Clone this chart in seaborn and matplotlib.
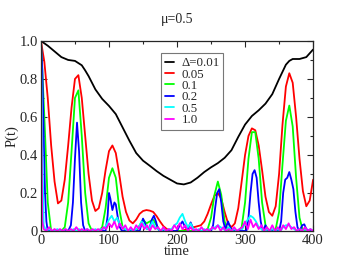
# P(t) for several Delta values at mu=0.5
import numpy as np
import pandas as pd
import matplotlib
matplotlib.use('Agg')
import matplotlib.pyplot as plt
from matplotlib.ticker import MultipleLocator, FuncFormatter
import seaborn as sns

# Delta = 0.01 (black)
t_black = [0, 10, 20, 30, 40, 50, 60, 65, 70, 75, 80, 90, 100, 110, 120, 130, 140, 150, 160, 170,
           180, 190, 200, 210, 220, 230, 240, 250, 260, 270, 280, 290, 300, 310, 320, 330, 340, 350,
           360, 365, 370, 380, 390, 400]
p_black = [1.0, 0.975, 0.945, 0.915, 0.9, 0.895, 0.872, 0.845, 0.815, 0.78, 0.745, 0.695, 0.658,
           0.615, 0.545, 0.475, 0.41, 0.37, 0.343, 0.315, 0.29, 0.27, 0.25, 0.245, 0.255, 0.28, 0.31,
           0.335, 0.357, 0.385, 0.425, 0.495, 0.56, 0.605, 0.635, 0.67, 0.72, 0.8, 0.875, 0.895,
           0.905, 0.905, 0.915, 0.955]

# Delta = 0.05 (red)
t_red = list(range(0, 401, 5))
p_red = [1.0, 0.89, 0.7, 0.45, 0.26, 0.145, 0.16, 0.27, 0.45, 0.65, 0.8, 0.82, 0.7, 0.5, 0.3, 0.16,
         0.105, 0.12, 0.2, 0.32, 0.42, 0.45, 0.41, 0.3, 0.18, 0.1, 0.055, 0.04, 0.06, 0.09, 0.105, 0.11,
         0.107, 0.1, 0.078, 0.05, 0.025, 0.01, 0.004, 0.0, 0.0, 0.0, 0.004, 0.01, 0.015, 0.02, 0.025,
         0.03, 0.05, 0.09, 0.14, 0.185, 0.2, 0.17, 0.1, 0.04, 0.02, 0.04, 0.12, 0.26, 0.4, 0.5, 0.54,
         0.53, 0.45, 0.32, 0.18, 0.1, 0.08, 0.13, 0.3, 0.56, 0.76, 0.83, 0.78, 0.6, 0.38, 0.21, 0.13,
         0.16, 0.27]

# Delta = 0.1 (green)
t_green = list(range(0, 401, 5))
p_green = [1.0, 0.6, 0.15, 0.0, 0.0, 0.0, 0.0, 0.02, 0.15, 0.42, 0.7, 0.74, 0.5, 0.2, 0.04, 0.0,
           0.0, 0.0, 0.02, 0.12, 0.28, 0.33, 0.28, 0.12, 0.02, 0.0, 0.0, 0.0, 0.0, 0.03, 0.06, 0.04,
           0.05, 0.06, 0.03, 0.0, 0.0, 0.0, 0.0, 0.0, 0.0, 0.0, 0.0, 0.0, 0.0, 0.0, 0.0, 0.0, 0.0, 0.01,
           0.07, 0.19, 0.26, 0.19, 0.05, 0.0, 0.0, 0.0, 0.0, 0.02, 0.15, 0.38, 0.52, 0.52, 0.38, 0.15,
           0.03, 0.0, 0.0, 0.01, 0.1, 0.35, 0.58, 0.66, 0.55, 0.28, 0.07, 0.0, 0.0, 0.0, 0.0]

# Delta = 0.2 (blue)
t_blue = [0, 2, 4, 6, 8, 10, 40, 44, 47, 50, 53, 56, 59, 62, 65, 95, 98, 100, 102, 105, 108, 110,
          113, 116, 119, 145, 148, 150, 153, 156, 160, 163, 166, 169, 172, 175, 200, 204, 208, 212,
          216, 220, 224, 228, 250, 253, 256, 259, 262, 265, 268, 271, 275, 278, 282, 302, 305, 308,
          311, 314, 317, 320, 323, 326, 330, 333, 350, 353, 356, 359, 362, 365, 368, 371, 374, 377,
          380, 384, 387, 390, 395, 400]
p_blue = [1.0, 0.85, 0.5, 0.2, 0.05, 0.0, 0.0, 0.03, 0.15, 0.38, 0.57, 0.42, 0.15, 0.03, 0.0, 0.0,
          0.08, 0.2, 0.17, 0.11, 0.15, 0.14, 0.07, 0.02, 0.0, 0.0, 0.04, 0.065, 0.04, 0.01, 0.02, 0.06,
          0.08, 0.05, 0.01, 0.0, 0.0, 0.03, 0.05, 0.02, 0.01, 0.045, 0.01, 0.0, 0.0, 0.03, 0.12, 0.2,
          0.22, 0.15, 0.05, 0.01, 0.05, 0.02, 0.0, 0.0, 0.07, 0.2, 0.3, 0.32, 0.28, 0.15, 0.05, 0.0,
          0.03, 0.0, 0.0, 0.05, 0.2, 0.27, 0.28, 0.31, 0.27, 0.22, 0.1, 0.02, 0.0, 0.03, 0.035, 0.01,
          0.0, 0.0]

# Delta = 0.5 (cyan), hundredths after the initial drop
t_cyan = [0, 2] + list(range(4, 401, 4))
p_cyan = [1.0, 0.45] + [v / 100 for v in [
    3, 0, 1, 0, 0, 1, 0, 0, 1, 0, 0, 1, 0, 1, 0, 0, 1, 0, 0, 1, 0, 1, 1, 3, 6, 8, 5, 7, 3, 2,
    1, 0, 1, 0, 1, 2, 5, 3, 1, 2, 5, 2, 1, 0, 1, 0, 1, 1, 3, 4, 7, 9, 5, 2, 4, 1, 0, 1, 0, 1,
    0, 1, 1, 2, 3, 2, 1, 0, 2, 0, 1, 0, 1, 1, 4, 6, 8, 7, 5, 2, 1, 0, 1, 0, 1, 0, 1, 0, 2, 3,
    3, 2, 1, 0, 1, 0, 1, 0, 1, 0]]

# Delta = 1.0 (magenta), hundredths after the initial drop
t_mag = [0, 1, 2] + list(range(4, 401, 4))
p_mag = [1.0, 0.4, 0.05] + [v / 100 for v in [
    1, 0, 2, 0, 1, 0, 1, 0, 1, 0, 1, 0, 2, 0, 1, 0, 1, 0, 1, 0, 1, 0, 2, 1, 4, 2, 5, 1, 4, 1,
    3, 0, 2, 0, 3, 1, 4, 1, 3, 0, 3, 1, 2, 0, 2, 0, 1, 0, 3, 1, 4, 1, 3, 0, 2, 0, 1, 0, 2, 0,
    1, 0, 2, 1, 3, 0, 2, 0, 1, 0, 2, 0, 1, 2, 5, 1, 6, 2, 4, 1, 3, 0, 2, 0, 3, 0, 2, 0, 3, 1,
    4, 1, 2, 0, 1, 0, 2, 0, 1, 0]]

labels = ['Δ=0.01', '0.05', '0.1', '0.2', '0.5', '1.0']
colors = ['black', 'red', '#00ff00', 'blue', 'cyan', 'magenta']
series = [(t_black, p_black), (t_red, p_red), (t_green, p_green),
          (t_blue, p_blue), (t_cyan, p_cyan), (t_mag, p_mag)]

frames = []
for lab, (t, p) in zip(labels, series):
    frames.append(pd.DataFrame({'time': t, 'P': p, 'delta': lab}))
df = pd.concat(frames, ignore_index=True)

sns.set_style('ticks')
plt.rcParams['font.family'] = ['Liberation Serif', 'DejaVu Serif']

fig = plt.figure(figsize=(3.53, 2.73), dpi=100)
ax = fig.add_axes([0.116, 0.154, 0.771, 0.696])
sns.lineplot(data=df, x='time', y='P', hue='delta', hue_order=labels,
             palette=colors, linewidth=1.3, sort=False, estimator=None, ax=ax)

ax.set_xlim(0, 400)
ax.set_ylim(0, 1)
ax.xaxis.set_major_locator(MultipleLocator(100))
ax.xaxis.set_minor_locator(MultipleLocator(50))
ax.yaxis.set_major_locator(MultipleLocator(0.2))
ax.yaxis.set_minor_locator(MultipleLocator(0.1))
ax.yaxis.set_major_formatter(FuncFormatter(lambda v, _: '0' if v == 0 else ('1' if v == 1 else f'{v:.1f}')))
ax.tick_params(which='both', direction='in', top=True, right=True, labelsize=10.5, width=0.8)
ax.tick_params(which='major', length=4, pad=2)
ax.tick_params(which='minor', length=2.5)
for s in ax.spines.values():
    s.set_linewidth(0.9)
ax.set_xlabel('time', fontsize=10.5, labelpad=-1)
ax.set_ylabel('P(t)', fontsize=10.5, labelpad=1)
ax.set_title('μ=0.5', fontsize=10, pad=13)

leg = ax.legend(loc='upper left', bbox_to_anchor=(0.44, 0.935), fontsize=9.3,
                handlelength=0.75, handletextpad=0.55, labelspacing=-0.05,
                borderpad=0.3, borderaxespad=0, frameon=True, fancybox=False)
leg.get_frame().set_edgecolor('#555555')
leg.get_frame().set_linewidth(0.8)
for h in leg.get_lines():
    h.set_linewidth(1.3)

fig.savefig('out.png', dpi=100)
